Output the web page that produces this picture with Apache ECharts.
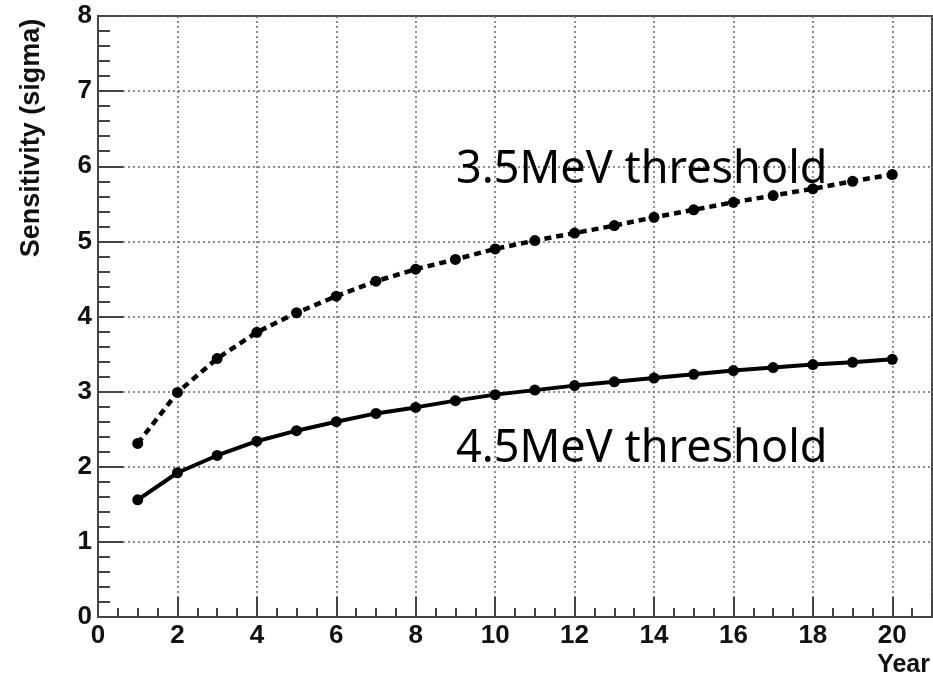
<!DOCTYPE html>
<html>
<head>
<meta charset="utf-8">
<script src="https://cdn.jsdelivr.net/npm/echarts@6/dist/echarts.min.js"></script>
<style>
  html, body { margin: 0; padding: 0; background: #fff; }
  #main { width: 933px; height: 677px; }
</style>
</head>
<body>
<div id="main"></div>
<script>
// data
var years = [1, 2, 3, 4, 5, 6, 7, 8, 9, 10, 11, 12, 13, 14, 15, 16, 17, 18, 19, 20];
var sens35 = [2.31, 2.99, 3.44, 3.79, 4.05, 4.27, 4.47, 4.63, 4.76, 4.90, 5.01, 5.11, 5.21, 5.32, 5.42, 5.52, 5.61, 5.70, 5.80, 5.89];
var sens45 = [1.56, 1.92, 2.15, 2.34, 2.48, 2.60, 2.71, 2.79, 2.88, 2.96, 3.02, 3.08, 3.13, 3.18, 3.23, 3.28, 3.32, 3.36, 3.39, 3.43];
var label35 = '3.5MeV threshold';
var label45 = '4.5MeV threshold';

function pairs(xs, ys) {
    return xs.map(function (x, i) { return [x, ys[i]]; });
}

var myChart = echarts.init(document.getElementById('main'));
var tickFont = {
    fontFamily: 'Liberation Sans',
    fontWeight: 'bold',
    fontSize: 26,
    color: '#111'
};
var option = {
    animation: false,
    grid: {
        left: 98,
        top: 16,
        right: 1,
        bottom: 60,
        show: true,
        borderColor: '#444',
        borderWidth: 2
    },
    xAxis: {
        type: 'value',
        min: 0,
        max: 21,
        interval: 2,
        axisLine: { lineStyle: { color: '#444', width: 2 } },
        axisTick: { inside: true, length: 20, lineStyle: { color: '#444', width: 2 } },
        minorTick: { show: true, splitNumber: 4, length: 9, lineStyle: { color: '#444', width: 2 } },
        axisLabel: Object.assign({ margin: 6, showMaxLabel: false }, tickFont),
        splitLine: { show: true, lineStyle: { color: '#666', type: [2, 3], width: 1.5 } }
    },
    yAxis: {
        type: 'value',
        min: 0,
        max: 8,
        interval: 1,
        axisLine: { lineStyle: { color: '#444', width: 2 } },
        axisTick: { inside: true, length: 25, lineStyle: { color: '#444', width: 2 } },
        minorTick: { show: true, splitNumber: 5, length: 12, lineStyle: { color: '#444', width: 2 } },
        axisLabel: Object.assign({ margin: 6 }, tickFont),
        splitLine: { show: true, lineStyle: { color: '#666', type: [2, 3], width: 1.5 } }
    },
    series: [
        {
            name: label35,
            type: 'line',
            data: pairs(years, sens35),
            symbol: 'circle',
            symbolSize: 11,
            itemStyle: { color: '#000' },
            lineStyle: { color: '#000', width: 4.5, type: [7, 5] },
            z: 5
        },
        {
            name: label45,
            type: 'line',
            data: pairs(years, sens45),
            symbol: 'circle',
            symbolSize: 11,
            itemStyle: { color: '#000' },
            lineStyle: { color: '#000', width: 4 },
            z: 5
        }
    ],
    graphic: [
        {
            type: 'text',
            x: 456, y: 170.5,
            style: { text: label35, fontFamily: 'Noto Sans', fontSize: 45, fill: '#000', align: 'left', verticalAlign: 'middle' },
            z: 10
        },
        {
            type: 'text',
            x: 456, y: 449,
            style: { text: label45, fontFamily: 'Noto Sans', fontSize: 45, fill: '#000', align: 'left', verticalAlign: 'middle' },
            z: 10
        },
        {
            type: 'text',
            x: 32, y: 138,
            rotation: Math.PI / 2,
            style: { text: 'Sensitivity (sigma)', fontFamily: 'Liberation Sans', fontWeight: 'bold', fontSize: 27, fill: '#111', align: 'center', verticalAlign: 'middle' }
        },
        {
            type: 'text',
            x: 930, y: 665,
            style: { text: 'Year', fontFamily: 'Liberation Sans', fontWeight: 'bold', fontSize: 25, fill: '#111', align: 'right', verticalAlign: 'middle' }
        }
    ]
};
myChart.setOption(option);
</script>
</body>
</html>
